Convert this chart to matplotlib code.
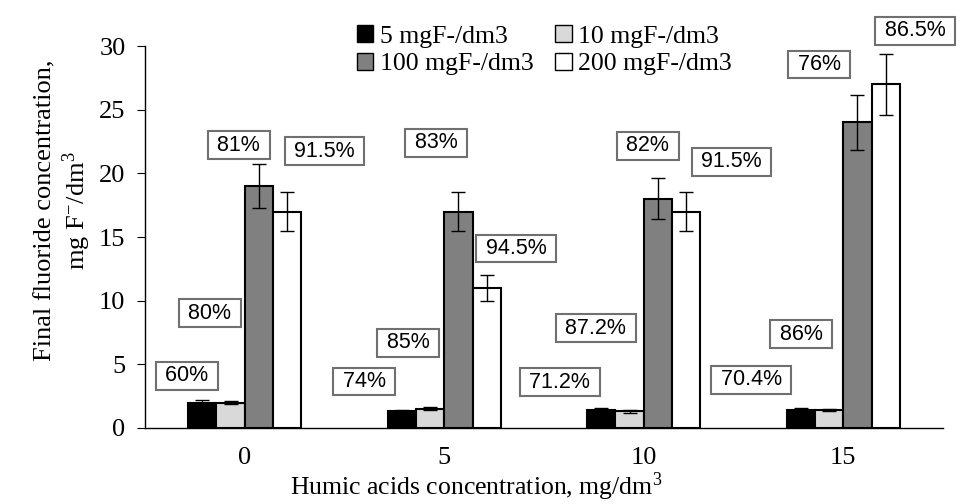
"""
Final fluoride concentration vs humic acids concentration, grouped bars
with error bars and boxed removal-efficiency labels.
"""
import matplotlib
matplotlib.use("Agg")
import matplotlib.pyplot as plt
from matplotlib.patches import Patch
import numpy as np

plt.rcParams["font.family"] = ["Liberation Serif", "DejaVu Serif"]
plt.rcParams["mathtext.fontset"] = "stix"

humic = ["0", "5", "10", "15"]
series_names = ["5 mgF-/dm3", "10 mgF-/dm3", "100 mgF-/dm3", "200 mgF-/dm3"]

conc_5 = [2.0, 1.3, 1.4, 1.45]
conc_10 = [2.0, 1.5, 1.3, 1.4]
conc_100 = [19.0, 17.0, 18.0, 24.0]
conc_200 = [17.0, 11.0, 17.0, 27.0]

err_5 = [0.2, 0.15, 0.15, 0.15]
err_10 = [0.15, 0.12, 0.1, 0.1]
err_100 = [1.75, 1.5, 1.6, 2.15]
err_200 = [1.5, 1.0, 1.5, 2.4]

# removal efficiencies shown in boxes, per series
eff_5 = ["60%", "74%", "71.2%", "70.4%"]
eff_10 = ["80%", "85%", "87.2%", "86%"]
eff_100 = ["81%", "83%", "82%", "76%"]
eff_200 = ["91.5%", "94.5%", "91.5%", "86.5%"]

values = [conc_5, conc_10, conc_100, conc_200]
errors = [err_5, err_10, err_100, err_200]
effs = [eff_5, eff_10, eff_100, eff_200]
colors = ["#000000", "#d9d9d9", "#808080", "#ffffff"]

# box placement (x offset from category centre, y in data units)
box_dx = [[-0.29, -0.40, -0.42, -0.46],
          [-0.175, -0.18, -0.24, -0.21],
          [-0.03, -0.04, 0.02, -0.12],
          [0.40, 0.36, 0.44, 0.36]]
box_y = [[4.1, 3.65, 3.6, 3.8],
         [9.0, 6.7, 7.85, 7.35],
         [22.2, 22.4, 22.15, 28.55],
         [21.75, 14.1, 20.9, 31.2]]

fig = plt.figure(figsize=(9.62, 5.04), dpi=100)
ax = fig.add_axes([0.1507, 0.1508, 0.8295, 0.7579])

x = np.arange(len(humic))
width = 0.142
for i, (vals, errs, col) in enumerate(zip(values, errors, colors)):
    pos = x + (i - 1.5) * width
    ax.bar(pos, vals, width, color=col, edgecolor="black", linewidth=1.5,
           yerr=errs, capsize=5,
           error_kw=dict(ecolor="black", elinewidth=1.0, capthick=1.0),
           zorder=2)
    for j in range(len(humic)):
        ax.text(x[j] + box_dx[i][j], box_y[i][j], f" {effs[i][j]} ",
                ha="center", va="center", fontsize=15.5,
                family=["Liberation Sans", "DejaVu Sans"], clip_on=False,
                bbox=dict(boxstyle="square,pad=0.16", facecolor="white",
                          edgecolor="#707070", linewidth=1.5),
                zorder=5)

ax.set_xlim(-0.5, 3.5)
ax.set_ylim(0, 30)
ax.set_yticks(range(0, 31, 5))
ax.set_xticks(x)
ax.set_xticklabels(humic)
ax.tick_params(axis="x", length=0, labelsize=19, pad=14)
ax.tick_params(axis="y", length=6, labelsize=19, pad=8)
for s in ["top", "right"]:
    ax.spines[s].set_visible(False)
ax.spines["left"].set_linewidth(1.0)
ax.spines["bottom"].set_linewidth(1.0)

ax.set_xlabel(r"Humic acids concentration, mg/dm$^{\mathregular{3}}$",
              fontsize=18.5)
ax.xaxis.set_label_coords(0.415, -0.112)
ax.set_ylabel("Final fluoride concentration,\n"
              r"mg F$^{\mathregular{-}}$/dm$^{\mathregular{3}}$",
              fontsize=19, linespacing=1.15)
ax.yaxis.set_label_coords(-0.065, 0.57)

handles = [Patch(facecolor=c, edgecolor="black", linewidth=1.0) for c in colors]
order = [0, 2, 1, 3]
fig.legend([handles[k] for k in order], [series_names[k] for k in order],
           loc="upper left", bbox_to_anchor=(0.352, 0.986), ncol=2,
           frameon=False, fontsize=18.5, handlelength=0.65, handleheight=0.65,
           handletextpad=0.25, columnspacing=0.85, labelspacing=0.2,
           borderpad=0.2)

fig.savefig("out.png", dpi=100)
plt.close(fig)
